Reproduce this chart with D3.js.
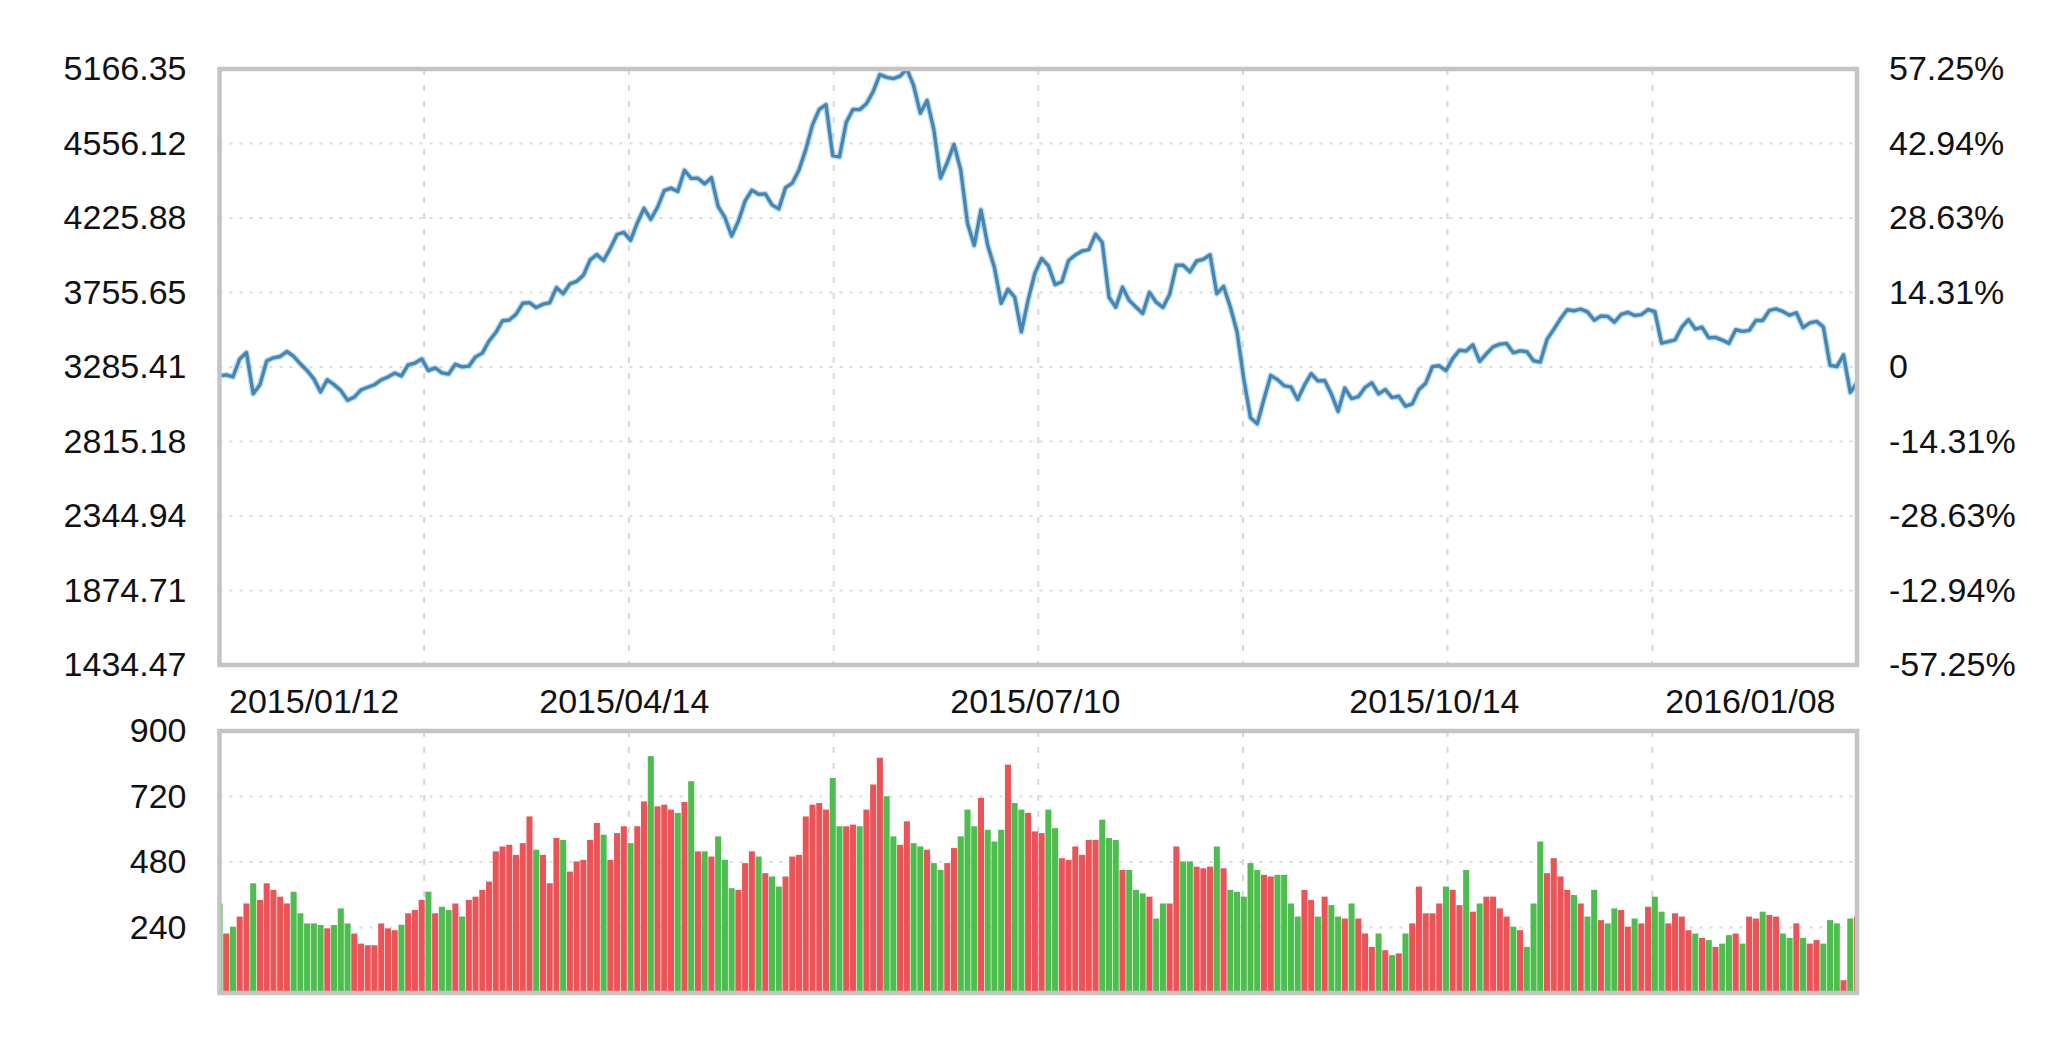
<!DOCTYPE html>
<html><head><meta charset="utf-8">
<script src="https://cdn.jsdelivr.net/npm/d3@7/dist/d3.min.js"></script>
<style>
html,body{margin:0;padding:0;background:#fff;}
svg{display:block;}
text{font-family:"Liberation Sans",Arial,sans-serif;fill:#111;}
</style></head>
<body>
<svg id="chart" width="2048" height="1060"></svg>
<script>
// ---- data ----
const closes = [
3229.32,3235.30,3222.44,3336.45,3376.50,3116.35,3173.05,3323.61,3343.34,3351.76,3383.18,3352.96,3305.74,3262.30,3210.36,
3128.30,3204.91,3174.13,3136.53,3075.91,3095.12,3141.59,3157.70,3173.42,3203.83,3222.36,3246.91,3228.84,3298.36,3310.30,
3336.28,3263.05,3279.53,3248.48,3241.19,3302.41,3286.07,3290.90,3349.32,3372.91,3449.30,3502.85,3577.30,3582.27,3617.32,3687.73,3691.41,3660.73,3682.09,3691.10,3786.57,3747.90,
3810.29,3825.78,3863.93,3961.38,3994.81,3957.53,4034.31,4121.71,4135.56,4084.16,4194.82,4287.30,4217.08,4293.62,4398.49,4414.51,4393.69,4527.40,4476.21,4476.62,4441.66,
4480.46,4298.71,4229.27,4112.21,4205.92,4333.58,4401.22,4375.76,4378.31,4308.69,4283.49,4417.55,4446.29,4529.42,4657.60,4813.80,4910.90,4941.71,4620.27,4611.74,
4828.74,4910.53,4909.98,4947.10,5023.10,5131.88,5113.53,5106.04,5121.59,5166.35,5062.99,4887.43,4967.90,4785.36,4478.36,4576.49,4690.15,4527.78,4192.87,4053.03,4277.22,
4053.70,3912.77,3686.92,3775.91,3727.12,3507.19,3709.33,3877.80,3970.39,3924.49,3805.70,3823.18,3957.35,3992.11,4017.67,4026.04,4123.92,4070.91,3725.56,3663.00,3789.17,3705.77,3663.73,
3622.91,3756.54,3694.57,3661.54,3744.20,3928.42,3927.91,3886.32,3954.56,3965.33,3993.67,3748.16,3794.11,3664.29,3507.74,3209.91,2964.97,2927.29,3083.59,3232.35,3205.99,
3166.62,3160.17,3080.42,3170.45,3243.09,3197.89,3200.23,3114.80,3005.17,3152.26,3086.06,3097.92,3156.54,3185.62,3115.89,3142.69,3092.35,3100.76,3038.14,3052.78,
3143.36,3183.15,3287.66,3293.23,3262.44,3338.07,3391.35,3386.70,3425.33,3320.68,3368.74,3412.43,3429.58,3434.34,3375.20,3387.32,3382.56,
3325.08,3316.70,3459.64,3522.82,3590.03,3646.88,3640.49,3650.25,3632.90,3580.84,3606.96,3604.80,3568.47,3617.06,3630.50,3610.31,3616.11,3647.93,3635.55,3436.30,3445.40,
3456.31,3536.91,3584.82,3524.99,3536.93,3470.07,3472.44,3455.50,3434.58,3520.67,3510.35,3516.19,3580.00,3578.96,3642.47,3651.77,3636.09,3612.49,3627.91,3533.78,3563.74,3572.88,3539.18,
3296.26,3287.71,3361.84,3125.00,3186.41
];
const prevClose = 3285.41;

const volumes = [
328,218,243,280,328,402,341,402,378,353,
328,371,292,255,255,249,237,249,310,255,
218,181,175,175,255,237,230,250,292,304,
341,371,292,316,304,328,280,341,353,378,
408,519,537,543,506,549,647,525,506,402,
568,561,445,482,488,561,623,580,488,586,
611,549,611,702,868,684,690,672,660,700,776,
519,519,500,574,488,384,378,476,519,500,
439,427,390,427,500,506,647,690,696,672,
788,611,611,617,611,672,764,862,721,574,
543,629,549,537,525,476,451,476,531,574,
672,611,715,598,555,598,837,696,672,660,
592,586,672,604,494,488,537,506,561,561,
635,568,561,451,451,378,365,353,273,328,
328,537,482,482,463,457,463,537,457,378,
371,353,476,451,433,427,433,433,328,280,
378,341,280,353,322,280,273,328,
273,218,169,218,157,139,145,218,255,390,
292,292,328,390,378,322,451,298,328,353,
353,310,280,243,230,169,328,555,439,494,
427,378,359,328,280,378,267,255,310,304,
243,273,255,316,353,298,255,292,280,230,
218,202,194,169,181,212,218,181,280,273,
298,286,280,218,202,255,202,181,194,181,
267,255,47,273,280
];

const priceTickValues = [5166.35,4696.11,4225.88,3755.65,3285.41,2815.18,2344.94,1874.71,1404.47];
const priceTickLabels = ["5166.35","4556.12","4225.88","3755.65","3285.41","2815.18","2344.94","1874.71","1434.47"];
const pctTickLabels = ["57.25%","42.94%","28.63%","14.31%","0","-14.31%","-28.63%","-12.94%","-57.25%"];
const volTickValues = [960,720,480,240];
const volTickLabels = ["900","720","480","240"];
const dateTickIndex = [0,60,121,182,243];
const dateTickLabels = ["2015/01/12","2015/04/14","2015/07/10","2015/10/14","2016/01/08"];

// ---- layout ----
const L = 219.5, R = 1857;
const pTop = 69, pBot = 665;
const vTop = 731, vBot = 993;

const svg = d3.select("#chart");
const idx = d3.range(closes.length);
const x = d3.scalePoint().domain(idx).range([L, R]);
const yP = d3.scaleLinear().domain([1404.47, 5166.35]).range([pBot, pTop]);
const yV = d3.scaleLinear().domain([0, 960]).range([vBot, vTop]);
const gridX = d3.scaleLinear().domain([0, 8]).range([L, R]);

const defs = svg.append("defs");
defs.append("clipPath").attr("id","clipP").append("rect").attr("x",L).attr("y",pTop).attr("width",R-L).attr("height",pBot-pTop);
defs.append("clipPath").attr("id","clipV").append("rect").attr("x",L).attr("y",vTop).attr("width",R-L).attr("height",vBot-vTop);

function grid(top, bot, yScale, vals) {
  const g = svg.append("g");
  g.selectAll("line.v").data(d3.range(1, 8)).join("line")
    .attr("x1", d => gridX(d)).attr("x2", d => gridX(d))
    .attr("y1", top).attr("y2", bot)
    .attr("stroke", "#d6d6d6").attr("stroke-width", 2).attr("stroke-dasharray", "6,10");
  g.selectAll("line.h").data(vals).join("line")
    .attr("x1", L).attr("x2", R)
    .attr("y1", d => yScale(d)).attr("y2", d => yScale(d))
    .attr("stroke", "#dcdcdc").attr("stroke-width", 2).attr("stroke-dasharray", "3,7");
}
grid(pTop, pBot, yP, priceTickValues.slice(1, -1));
grid(vTop, vBot, yV, volTickValues.slice(1));

// price line
svg.append("path").datum(closes)
  .attr("clip-path", "url(#clipP)")
  .attr("fill", "none").attr("stroke", "#8cc4e6").attr("stroke-width", 6).attr("stroke-opacity", 0.6)
  .attr("stroke-linejoin", "round")
  .attr("d", d3.line().x((d, i) => x(i)).y(d => yP(d)));
svg.append("path").datum(closes)
  .attr("clip-path", "url(#clipP)")
  .attr("fill", "none").attr("stroke", "#4686b4").attr("stroke-width", 3.4)
  .attr("stroke-linejoin", "round")
  .attr("d", d3.line().x((d, i) => x(i)).y(d => yP(d)));

// volume bars
const bw = x.step() * 0.9;
svg.append("g").attr("clip-path", "url(#clipV)")
  .selectAll("rect").data(volumes).join("rect")
  .attr("x", (d, i) => x(i) - bw / 2)
  .attr("width", bw)
  .attr("y", d => yV(d))
  .attr("height", d => vBot - yV(d))
  .attr("fill", (d, i) => {
    const prev = i === 0 ? prevClose : closes[i - 1];
    return closes[i] >= prev ? "#eb5457" : "#4dbe4d";
  });

// frames
[[pTop, pBot], [vTop, vBot]].forEach(([t, b]) => {
  svg.append("rect").attr("x", L).attr("y", t).attr("width", R - L).attr("height", b - t)
    .attr("fill", "none").attr("stroke", "#c4c4c4").attr("stroke-width", 4.5);
});

// axes
const fs = 34;
function styleAxis(g) {
  g.select(".domain").remove();
  g.selectAll(".tick line").remove();
  g.selectAll("text").attr("font-size", fs).attr("fill", "#111")
    .attr("font-family", "Liberation Sans, Arial, sans-serif");
}
svg.append("g").attr("transform", `translate(${L - 33},0)`)
  .call(d3.axisLeft(yP).tickValues(priceTickValues).tickSize(0).tickPadding(0)
    .tickFormat((d, i) => priceTickLabels[i]))
  .call(styleAxis);
svg.append("g").attr("transform", `translate(${R + 32},0)`)
  .call(d3.axisRight(yP).tickValues(priceTickValues).tickSize(0).tickPadding(0)
    .tickFormat((d, i) => pctTickLabels[i]))
  .call(styleAxis);
svg.append("g").attr("transform", `translate(${L - 33},0)`)
  .call(d3.axisLeft(yV).tickValues(volTickValues).tickSize(0).tickPadding(0)
    .tickFormat((d, i) => volTickLabels[i]))
  .call(styleAxis);

// date labels
const dg = svg.append("g").attr("transform", `translate(0,${pBot})`)
  .call(d3.axisBottom(x).tickValues(dateTickIndex).tickSize(0).tickPadding(0)
    .tickFormat(d => dateTickLabels[dateTickIndex.indexOf(d)]))
  .call(styleAxis);
dg.selectAll("text").attr("dy", null).attr("y", 48)
  .attr("text-anchor", (d, i) => i === 0 ? "start" : (i === dateTickIndex.length - 1 ? "end" : "middle"))
  .attr("dx", (d, i) => i === 0 ? 9 : (i === dateTickIndex.length - 1 ? -22 : (i === 3 ? -12 : 0)));
</script>
</body></html>
